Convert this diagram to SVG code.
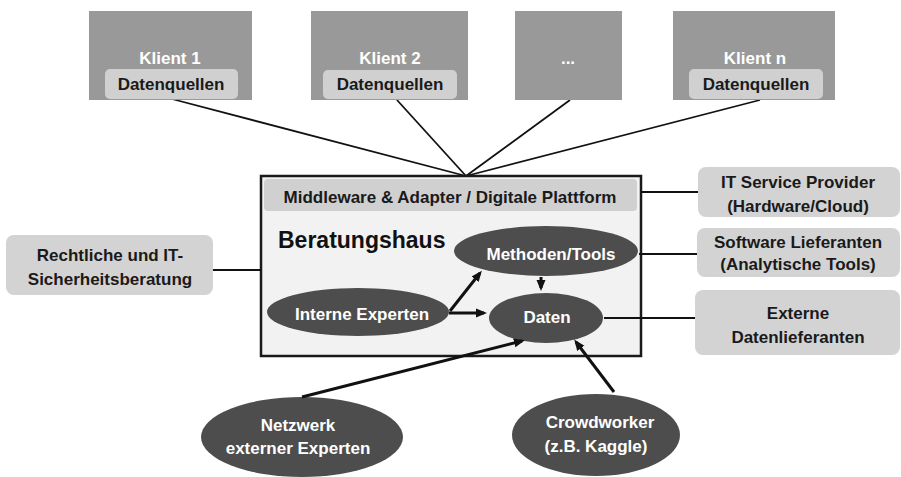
<svg xmlns="http://www.w3.org/2000/svg" width="901" height="477" viewBox="0 0 901 477">
<defs>
<marker id="ah" markerUnits="userSpaceOnUse" markerWidth="11" markerHeight="10" refX="8" refY="5" orient="auto">
<path d="M0,0.5 L11,5 L0,9.5 z" fill="#111"/>
</marker>
<style>
text{font-family:"Liberation Sans",Arial,sans-serif;font-weight:bold;text-anchor:middle}
.klient{fill:#999999}
.dq{fill:#d0d0d0}
.dark{fill:#1a1a1a;font-size:17px}
.white{fill:#ffffff;font-size:17px}
.ell{fill:#4d4d4d}
.side{fill:#d3d3d3}
.thin{stroke:#111;stroke-width:1.8;fill:none}
.arr{stroke:#111;stroke-width:3;fill:none;marker-end:url(#ah)}
</style>
</defs>
<rect width="901" height="477" fill="#ffffff"/>

<g id="connectors">
<line class="thin" x1="172" y1="99" x2="466" y2="176"/>
<line class="thin" x1="397" y1="100" x2="466" y2="176"/>
<line class="thin" x1="570" y1="100" x2="466" y2="176"/>
<line class="thin" x1="760" y1="100" x2="466" y2="176"/>
</g>

<g id="klient1">
<rect class="klient" x="89" y="11" width="163" height="89"/>
<text class="white" x="170" y="64">Klient 1</text>
<rect class="dq" x="105" y="69" width="133" height="30" rx="5"/>
<text class="dark" x="171" y="90">Datenquellen</text>
</g>
<g id="klient2">
<rect class="klient" x="311" y="11" width="157" height="89"/>
<text class="white" x="390" y="64">Klient 2</text>
<rect class="dq" x="323" y="70" width="134" height="29" rx="5"/>
<text class="dark" x="390" y="90">Datenquellen</text>
</g>
<g id="klient-dots">
<rect class="klient" x="515" y="11" width="107" height="89"/>
<text class="white" x="568" y="64">...</text>
</g>
<g id="klientn">
<rect class="klient" x="673" y="11" width="162" height="89"/>
<text class="white" x="755" y="64">Klient n</text>
<rect class="dq" x="689" y="69" width="134" height="30" rx="5"/>
<text class="dark" x="756" y="90">Datenquellen</text>
</g>

<g id="beratungshaus">
<rect x="261" y="176" width="380" height="180" fill="#f2f2f2" stroke="#1a1a1a" stroke-width="2.5"/>
<rect class="dq" x="264" y="179" width="373" height="32" rx="4"/>
<text x="450" y="203" fill="#1a1a1a" font-size="17">Middleware &amp; Adapter / Digitale Plattform</text>
<text x="278" y="248" fill="#111" font-size="23" style="text-anchor:start">Beratungshaus</text>
</g>

<g id="connectors-main">
<line class="thin" x1="641" y1="192" x2="698" y2="192"/>
<line class="thin" x1="639" y1="254" x2="697" y2="254"/>
<line class="thin" x1="604" y1="318" x2="695" y2="318"/>
<line class="thin" x1="213" y1="270" x2="261" y2="270"/>
</g>

<g id="methoden">
<ellipse class="ell" cx="546" cy="251" rx="92" ry="25"/>
<text class="white" x="551" y="260">Methoden/Tools</text>
</g>
<g id="interne">
<ellipse class="ell" cx="358" cy="312" rx="91" ry="24"/>
<text class="white" x="362" y="320">Interne Experten</text>
</g>
<g id="daten">
<ellipse class="ell" cx="546" cy="318" rx="57" ry="25"/>
<text class="white" x="547" y="323">Daten</text>
</g>

<g id="it-service">
<rect class="side" x="698" y="167" width="202" height="50" rx="8"/>
<text class="dark" x="798" y="188">IT Service Provider</text>
<text class="dark" x="798" y="212">(Hardware/Cloud)</text>
</g>
<g id="software">
<rect class="side" x="697" y="228" width="203" height="49" rx="8"/>
<text class="dark" x="798" y="248">Software Lieferanten</text>
<text class="dark" x="798" y="270">(Analytische Tools)</text>
</g>
<g id="externe-daten">
<rect class="side" x="695" y="290" width="205" height="65" rx="8"/>
<text class="dark" x="798" y="319">Externe</text>
<text class="dark" x="798" y="343">Datenlieferanten</text>
</g>
<g id="rechtliche">
<rect class="side" x="6" y="235" width="207" height="60" rx="8"/>
<text class="dark" x="110" y="261">Rechtliche und IT-</text>
<text class="dark" x="110" y="285">Sicherheitsberatung</text>
</g>

<g id="netzwerk">
<ellipse class="ell" cx="302" cy="437" rx="101" ry="40"/>
<text class="white" x="298" y="431">Netzwerk</text>
<text class="white" x="298" y="454">externer Experten</text>
</g>
<g id="crowdworker">
<ellipse class="ell" cx="596" cy="435" rx="84" ry="41"/>
<text class="white" x="600" y="428">Crowdworker</text>
<text class="white" x="596" y="452">(z.B. Kaggle)</text>
</g>

<g id="arrows">
<line class="arr" x1="450" y1="311" x2="480" y2="273"/>
<line class="arr" x1="449" y1="313" x2="484" y2="313"/>
<line class="arr" x1="541" y1="277" x2="541" y2="288"/>
<line class="arr" x1="302" y1="397" x2="522" y2="341"/>
<line class="arr" x1="614" y1="392" x2="576" y2="342"/>
</g>
</svg>
